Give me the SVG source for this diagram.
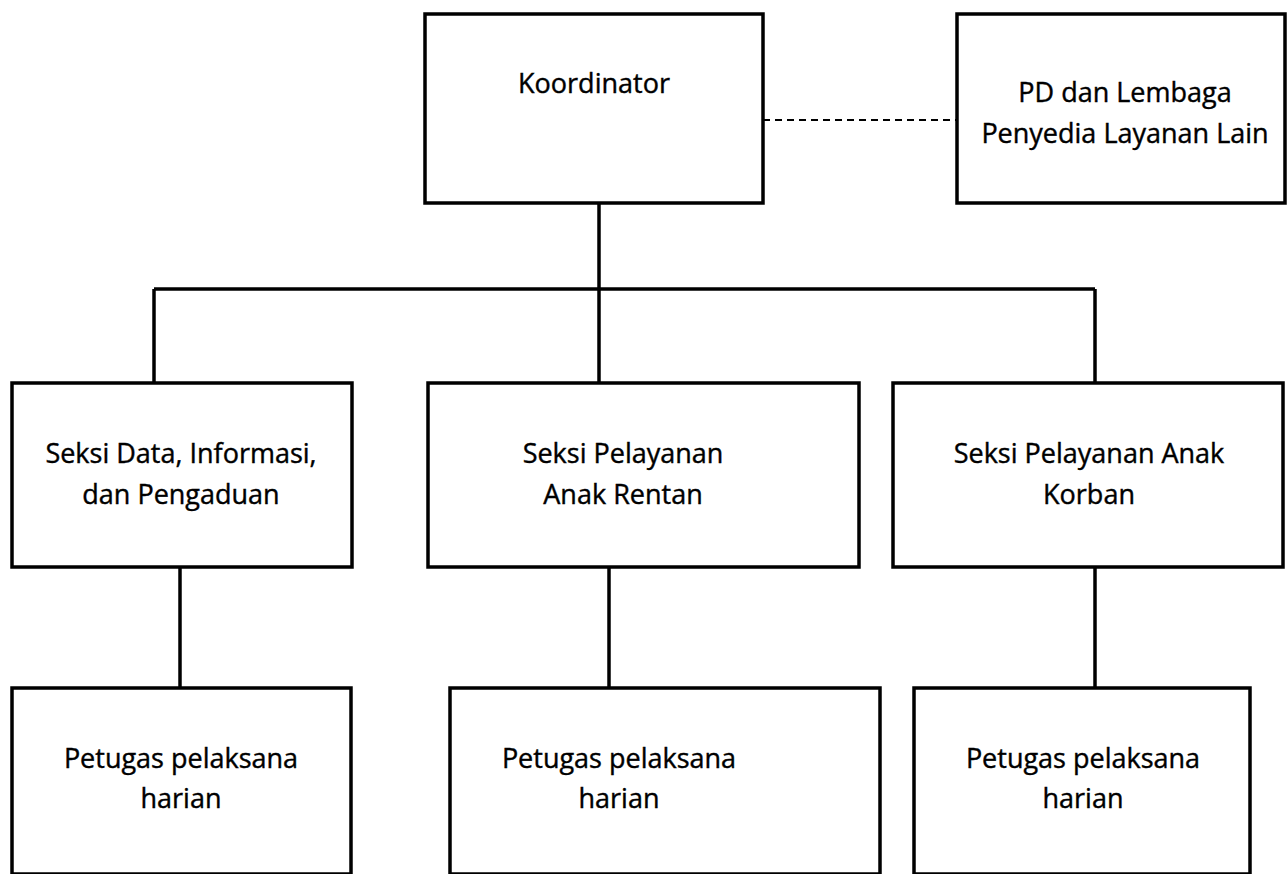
<svg xmlns="http://www.w3.org/2000/svg" width="1288" height="874" viewBox="0 0 1288 874">
<style>
.box{fill:#fff;stroke:#000;stroke-width:3.5}
.ln{stroke:#000;stroke-width:3.5;fill:none}
.dash{stroke:#000;stroke-width:2;stroke-dasharray:7 5;fill:none}
text{font-family:"Open Sans","Noto Sans","Liberation Sans",sans-serif;font-size:27px;fill:#000;stroke:#000;stroke-width:0.4;text-anchor:middle}
</style>
<rect width="1288" height="874" fill="#fff"/>
<g id="connectors">
<line class="dash" x1="763" y1="120" x2="957" y2="120"/>
<line class="ln" x1="599" y1="203" x2="599" y2="289"/>
<line class="ln" x1="154" y1="289" x2="1095" y2="289"/>
<line class="ln" x1="154" y1="289" x2="154" y2="383"/>
<line class="ln" x1="599" y1="289" x2="599" y2="383"/>
<line class="ln" x1="1095" y1="289" x2="1095" y2="383"/>
<line class="ln" x1="180" y1="567" x2="180" y2="688"/>
<line class="ln" x1="609" y1="567" x2="609" y2="688"/>
<line class="ln" x1="1095" y1="567" x2="1095" y2="688"/>
</g>
<g id="koordinator">
<rect class="box" x="425" y="14" width="338" height="189"/>
<text x="594" y="93">Koordinator</text>
</g>
<g id="pd-lembaga">
<rect class="box" x="957" y="14" width="328" height="189"/>
<text x="1125" y="102">PD dan Lembaga</text>
<text x="1125" y="143">Penyedia Layanan Lain</text>
</g>
<g id="seksi-data">
<rect class="box" x="12" y="383" width="340" height="184"/>
<text x="181" y="463">Seksi Data, Informasi,</text>
<text x="181" y="504">dan Pengaduan</text>
</g>
<g id="seksi-rentan">
<rect class="box" x="428" y="383" width="431" height="184"/>
<text x="623" y="463">Seksi Pelayanan</text>
<text x="623" y="504">Anak Rentan</text>
</g>
<g id="seksi-korban">
<rect class="box" x="893" y="383" width="390" height="184"/>
<text x="1089" y="463">Seksi Pelayanan Anak</text>
<text x="1089" y="504">Korban</text>
</g>
<g id="petugas-1">
<rect class="box" x="12" y="688" width="339" height="186"/>
<text x="181" y="768">Petugas pelaksana</text>
<text x="181" y="808">harian</text>
</g>
<g id="petugas-2">
<rect class="box" x="450" y="688" width="430" height="186"/>
<text x="619" y="768">Petugas pelaksana</text>
<text x="619" y="808">harian</text>
</g>
<g id="petugas-3">
<rect class="box" x="914" y="688" width="336" height="186"/>
<text x="1083" y="768">Petugas pelaksana</text>
<text x="1083" y="808">harian</text>
</g>
</svg>
